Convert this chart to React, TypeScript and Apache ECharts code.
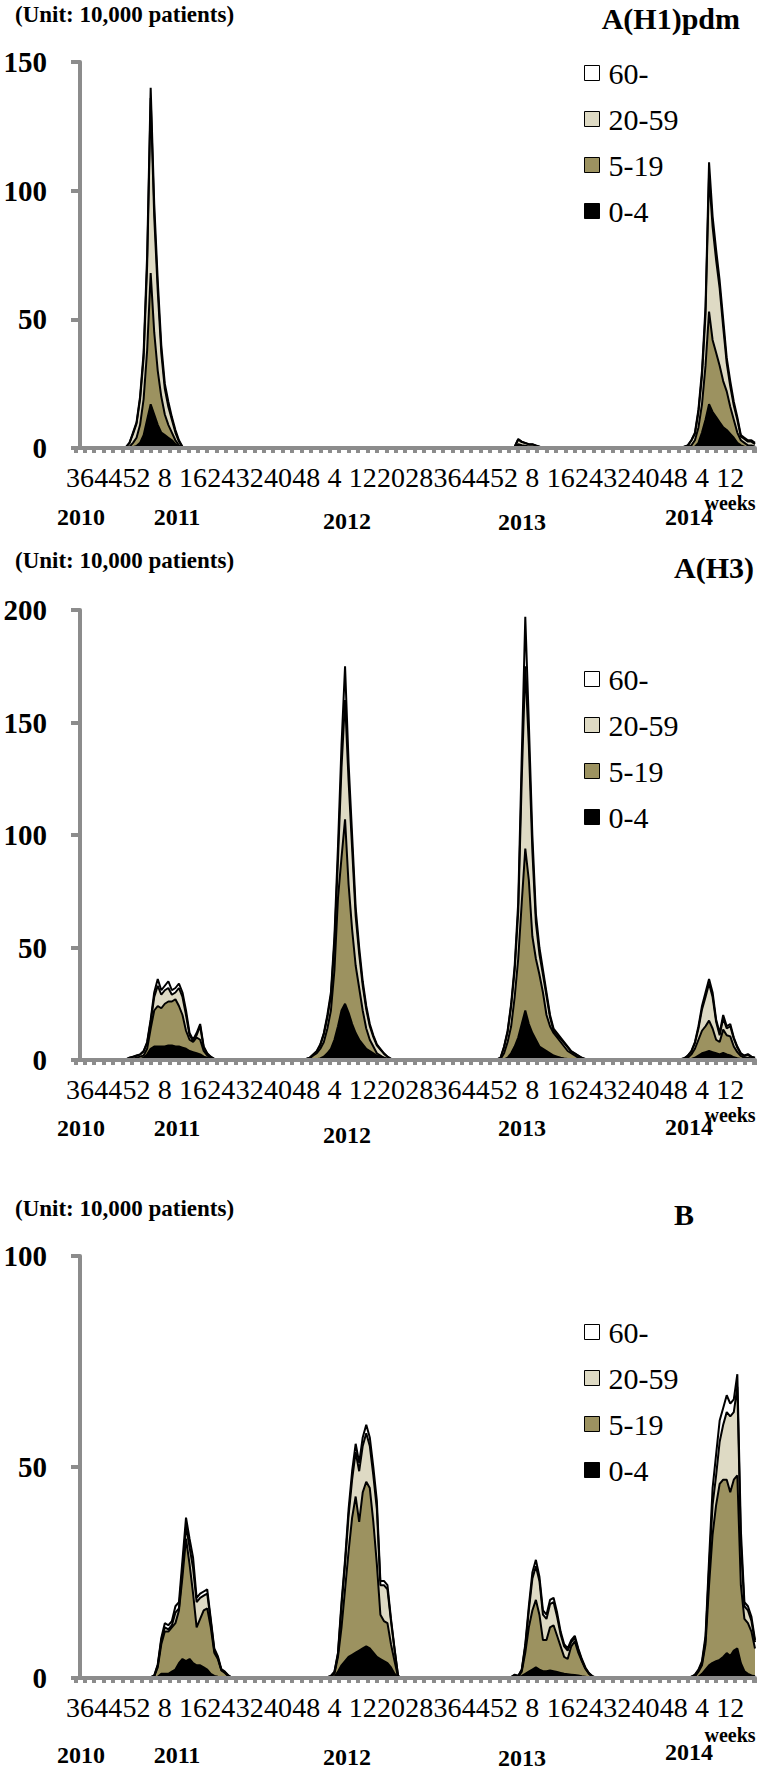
import React, { useEffect, useRef } from "react";
import * as echarts from "echarts";

// ---------- categories: weekly, 2010 week 36 .. 2014 week 19 ----------
const WEEK_RANGES: [number, number, number][] = [
  [2010, 36, 52],
  [2011, 1, 52],
  [2012, 1, 52],
  [2013, 1, 52],
  [2014, 1, 19],
];
const WEEKS: string[] = [];
for (const [, a, b] of WEEK_RANGES) for (let w = a; w <= b; w++) WEEKS.push(String(w));

const AGE_GROUPS = ["0-4", "5-19", "20-59", "60-"];
const LEGEND_ORDER = ["60-", "20-59", "5-19", "0-4"];
const AGE_COLORS = ["#000000", "#9c9260", "#dedac4", "#ffffff"];
const YEAR_LABELS = ["2010", "2011", "2012", "2013", "2014"];

// ---------- A(H1)pdm (unit: 10,000 patients), seasons start at category index ----------
const H1_STARTS = [13, 123, 171];
const H1_0_4 = [
  [0, 0, 0.3, 0.8, 2, 5, 11, 17, 13, 9, 6, 5, 4, 3, 1.5, 0.5, 0.1],
  [0.1, 0.8, 0.6, 0.5, 0.3, 0.3, 0.2, 0.1],
  [0, 0.1, 0.2, 0.5, 2, 6, 11, 17, 14, 12, 10, 8, 7, 5.5, 4, 2, 1, 0.5, 0.3, 0.2, 0.1],
];
const H1_5_19 = [
  [0, 0.5, 1.7, 3.2, 7, 14, 27, 51, 32, 21, 14, 8, 5, 3, 1.5, 0.5, 0.1],
  [0.1, 0.7, 0.5, 0.4, 0.3, 0.3, 0.2, 0.1],
  [0.2, 0.4, 0.8, 2.5, 6, 11, 21, 36, 28, 25, 22, 18, 15, 10.5, 7, 4, 2, 1.5, 0.7, 0.8, 0.4],
];
const H1_20_59 = [
  [0.3, 1.5, 3.5, 5.5, 10, 16, 33, 68, 45, 31, 17, 10, 7, 5, 3, 1.5, 0.2],
  [0.3, 1.8, 1.2, 1.0, 0.8, 0.8, 0.5, 0.3],
  [0.3, 0.5, 2, 2.5, 6, 11, 20, 53, 44, 36, 30, 21, 11, 8, 5.5, 5, 1.5, 1.5, 1.5, 1.5, 1],
];
const H1_60 = [
  [0, 0, 0.5, 0.5, 1, 2, 4, 4, 5, 4, 3, 2, 2, 1, 1, 0.5, 0.1],
  [0, 0.2, 0.2, 0.1, 0.1, 0.1, 0.1, 0],
  [0, 0, 0, 0.5, 1, 2, 3, 5, 4, 4, 3, 3, 2, 2, 1.5, 1, 0.5, 0.5, 0.5, 0.5, 0.5],
];

// ---------- A(H3) ----------
const H3_STARTS = [13, 64, 118, 170];
const H3_0_4 = [
  [0, 0, 0, 0.1, 0.3, 1, 2.5, 5, 6, 6, 6, 6, 6.5, 6.5, 6, 6, 5.5, 5, 4, 3.5, 3, 2.5, 1.5, 1, 0.5, 0.2],
  [0, 0, 0.1, 0.3, 0.7, 1.5, 3, 5, 9, 15, 22, 25, 21, 16, 12, 9, 7, 5, 4, 3, 2, 1.5, 1, 0.5, 0.2],
  [0, 0, 0.3, 1, 3, 6, 10, 16, 22, 16, 12, 9, 6, 5, 4, 3, 2, 1.5, 1, 0.7, 0.5, 0.3, 0.2, 0.1, 0, 0],
  [0, 0, 0.2, 0.5, 1, 2, 3, 3.5, 4, 3.5, 3, 2.5, 3.2, 2.5, 2, 1.2, 0.8, 0.5, 0.3, 0.3, 0.2, 0.1],
];
const H3_5_19 = [
  [0, 0.3, 0.6, 0.9, 1.2, 1, 2.5, 9, 16, 18, 17, 19, 19.5, 19.5, 21, 18, 14.5, 8, 5, 4.5, 7, 6.5, 2.5, 1, 0.5, 0.1],
  [0.3, 0.8, 1.9, 2.7, 4.3, 6.5, 11, 17, 31, 57, 68, 82, 57, 42, 30, 23, 15, 9, 5, 3, 1, 0.5, 0, 0, 0],
  [0, 0.5, 2.7, 7, 12, 22, 35, 54, 72, 64, 43, 36, 32, 25, 16, 12, 10, 8.5, 7, 5.3, 3.5, 2.7, 1.8, 0.9, 0.5, 0.2],
  [0, 0.3, 0.8, 2, 4, 7, 10, 11.5, 13.5, 10.5, 6, 5.5, 10.3, 8.5, 8.5, 4.8, 2.7, 1.3, 0.7, 0.7, 0.5, 0.3],
];
const H3_20_59 = [
  [0.3, 0.7, 0.8, 0.9, 0.9, 1.8, 2.5, 3, 6, 9, 6, 6, 6, 3, 3, 8, 8, 7, 2, 0.5, 1, 6, 1.5, 0.7, 0.3, 0.1],
  [0.2, 0.2, 0.4, 0.8, 1.6, 3.5, 5, 6.5, 12, 17, 40, 53, 46, 36, 22, 15, 11, 8.5, 6, 4.3, 3.5, 2.6, 1.8, 0.9, 0.3],
  [0.3, 0.5, 2.8, 4.5, 9, 12, 21, 55, 81, 60, 38, 16, 9, 8, 8.5, 4, 1, 1, 1.3, 1.5, 1.6, 0.7, 0.8, 0.8, 0.4, 0.2],
  [0.3, 0.5, 0.9, 1.3, 2.5, 5, 9.5, 13, 16.5, 14, 8, 3, 5, 3, 4.5, 3.5, 2, 0.9, 0.8, 1.3, 0.6, 0.5],
];
const H3_60 = [
  [0, 0, 0.1, 0.1, 0.1, 0.2, 0.5, 1, 2, 3, 2, 2, 3, 2, 2, 2, 2, 2, 1, 0.5, 1, 1, 0.5, 0.3, 0.2, 0.1],
  [0, 0, 0.1, 0.2, 0.4, 0.5, 1, 1.5, 3, 6, 10, 15, 8, 6, 4, 3, 2, 1.5, 1, 0.7, 0.5, 0.4, 0.2, 0.1, 0],
  [0, 0, 0.2, 0.5, 1, 2, 4, 10, 22, 10, 7, 4, 3, 2, 1.5, 1, 1, 1, 0.7, 0.5, 0.4, 0.3, 0.2, 0.2, 0.1, 0.1],
  [0, 0, 0.1, 0.2, 0.5, 1, 1.5, 2, 2, 2, 1, 1, 1.5, 1, 1, 0.5, 0.5, 0.3, 0.2, 0.3, 0.2, 0.1],
];

// ---------- B ----------
const B_STARTS = [20, 70, 122, 172];
const B_0_4 = [
  [0, 0, 0.3, 1, 1, 1, 1.5, 2, 3.5, 4.5, 4, 4.5, 3.5, 3, 3, 2.5, 2, 1, 0.5, 0.3, 0.2, 0.1, 0, 0],
  [0, 0, 0.3, 1.5, 3, 4, 5, 5.5, 6, 6.5, 7, 7.5, 7, 6, 5, 4.5, 4, 3.5, 2.5, 1, 0.2],
  [0, 0, 0.2, 0.5, 1, 1.5, 2, 2.5, 2, 1.6, 1.6, 1.8, 1.6, 1.4, 1.2, 1, 0.9, 0.8, 0.7, 0.6, 0.4, 0.3, 0.1, 0, 0],
  [0, 0, 0, 0.3, 1, 2, 3, 3.6, 4, 4.3, 5, 5.9, 5.2, 6.5, 7, 3.5, 1.6, 1, 0.6, 0.4],
];
const B_5_19 = [
  [0.1, 0.4, 2.2, 7, 10, 10, 10.5, 11, 12.5, 19.5, 29, 22.5, 16.5, 9, 11, 13.5, 14.5, 11, 5.5, 4.2, 1.6, 1.1, 0.4, 0.1],
  [0.1, 0.3, 0.7, 3.5, 9, 17, 25, 32.5, 37, 30.5, 37, 39, 38, 31, 22, 10.5, 9.5, 9.5, 5.5, 3, 0.1],
  [0, 0.3, 0.1, 1, 5, 10.5, 14, 16, 13, 7.4, 7.4, 10.2, 10.9, 8.6, 6.3, 4, 3.6, 6.7, 8, 5.4, 3.6, 1.9, 0.9, 0.3, 0.1],
  [0, 0.1, 0.3, 1.2, 2, 6, 19, 30.4, 37, 41.7, 42, 41.1, 38.8, 40.5, 41, 18.5, 12.4, 12, 10.4, 6.6],
];
const B_20_59 = [
  [0.1, 0.1, 0.5, 1, 1, 0.5, 0.5, 2.5, 0.5, 2, 3, 4, 6, 6, 5, 3.5, 3.5, 1.5, 0.5, 0.3, 0.1, 0.2, 0.1, 0],
  [0.1, 0.2, 0.4, 0.7, 5, 6, 8.5, 9, 10.5, 12, 11, 11.5, 10, 11, 13, 7, 8.5, 8, 5.5, 2.8, 0.2],
  [0.2, 0.4, 0.2, 0.4, 1.5, 4, 7.5, 8, 8, 6, 5, 5.5, 5.5, 4.5, 2.8, 2.5, 2, 1, 0.8, 0.6, 0.2, 0.1, 0.1, 0.1, 0],
  [0.1, 0.2, 0.4, 0.3, 0.5, 1, 4, 7, 7, 10, 13, 16, 18, 16, 21, 10, 3, 3, 2.5, 1.5],
];
const B_60 = [
  [0, 0.1, 0.2, 0.5, 1, 1, 1, 1.5, 1.5, 2, 2, 2, 2.5, 1, 1, 1, 1, 0.5, 0.5, 0.4, 0.2, 0.1, 0.1, 0],
  [0, 0, 0.1, 0.3, 1, 1, 1.5, 2, 2, 2, 2, 2, 2, 2, 2, 1, 1, 1, 0.5, 0.2, 0],
  [0, 0.1, 0, 0.1, 0.5, 1, 1.5, 1.5, 1, 1, 1, 1, 1, 1, 0.7, 0.5, 0.5, 0.5, 0.5, 0.4, 0.3, 0.2, 0.1, 0, 0],
  [0, 0, 0.1, 0.2, 0.5, 1, 2, 4, 5, 5, 4, 4, 3, 3, 3, 3, 1, 1, 1, 0.5],
];

// ---------- layout (page pixels) ----------
const SERIF = "Liberation Serif";
const GRAY = "#8c8c8c";
const PLOT_LEFT = 80;
const PLOT_WIDTH = 675;

const PANELS = [
  {
    title: "A(H1)pdm", max: 150, top: 62, height: 386,
    starts: H1_STARTS, layers: [H1_0_4, H1_5_19, H1_20_59, H1_60],
    unitY: 14, titleX: 740, titleY: 18, titleAlign: "right",
    legendTop: 58, weeksY: 503, yearsY: [517, 517, 521, 522, 517],
  },
  {
    title: "A(H3)", max: 200, top: 610, height: 450,
    starts: H3_STARTS, layers: [H3_0_4, H3_5_19, H3_20_59, H3_60],
    unitY: 560, titleX: 754, titleY: 567, titleAlign: "right",
    legendTop: 664, weeksY: 1115, yearsY: [1128, 1128, 1135, 1128, 1127],
  },
  {
    title: "B", max: 100, top: 1256, height: 422,
    starts: B_STARTS, layers: [B_0_4, B_5_19, B_20_59, B_60],
    unitY: 1208, titleX: 684, titleY: 1214, titleAlign: "center",
    legendTop: 1317, weeksY: 1735, yearsY: [1755, 1755, 1757, 1758, 1752],
  },
];
const YEAR_X = [81, 177, 347, 522, 689];

function expand(starts: number[], segments: number[][]): number[] {
  const out = new Array(WEEKS.length).fill(0);
  segments.forEach((seg, i) => seg.forEach((v, k) => { out[starts[i] + k] = v; }));
  return out;
}

function buildOption() {
  const unit = PLOT_WIDTH / (WEEKS.length - 1);
  const shift = 4 / 3; // comb ticks phase (weeks)
  const grid: any[] = [];
  const xAxis: any[] = [];
  const yAxis: any[] = [];
  const series: any[] = [];
  const legend: any[] = [];
  const graphic: any[] = [];
  const legendText = { fontFamily: SERIF, fontSize: 30, fontWeight: "normal", color: "#000" };

  PANELS.forEach((p, pi) => {
    grid.push({ left: PLOT_LEFT, width: PLOT_WIDTH, top: p.top, height: p.height, containLabel: false });
    grid.push({ left: PLOT_LEFT - shift * unit, width: PLOT_WIDTH + shift * unit, top: p.top, height: p.height, containLabel: false });
    const g = pi * 2;
    xAxis.push({
      type: "category", gridIndex: g, data: WEEKS, boundaryGap: false, z: 5,
      axisLine: { show: true, lineStyle: { color: GRAY, width: 4 } },
      axisTick: { show: false },
      axisLabel: { interval: 7, fontFamily: SERIF, fontSize: 28, color: "#000", margin: 15 },
      splitLine: { show: false },
    });
    xAxis.push({
      type: "value", gridIndex: g + 1, position: "bottom", min: 0, max: WEEKS.length - 1 + shift,
      interval: 8 / 3, z: 5,
      axisLine: { show: false },
      axisTick: { show: true, length: 5, lineStyle: { color: GRAY, width: 4 } },
      axisLabel: { show: false },
      splitLine: { show: false },
    });
    yAxis.push({
      type: "value", gridIndex: g, min: 0, max: p.max, interval: 50, z: 5,
      axisLine: { show: true, lineStyle: { color: GRAY, width: 4 } },
      axisTick: { show: true, length: 9, lineStyle: { color: GRAY, width: 4 } },
      axisLabel: { fontFamily: SERIF, fontWeight: "bold", fontSize: 29, color: "#000", margin: 33 },
      splitLine: { show: false },
    });
    yAxis.push({ type: "value", gridIndex: g + 1, show: false, min: 0, max: p.max });

    AGE_GROUPS.forEach((name, li) => {
      series.push({
        type: "line", name, xAxisIndex: g, yAxisIndex: g, stack: "panel" + pi,
        data: expand(p.starts, p.layers[li]),
        symbol: "none", showSymbol: false, z: 2,
        lineStyle: { color: "#000", width: 2 },
        itemStyle: { color: AGE_COLORS[li], borderColor: "#000", borderWidth: 1 },
        areaStyle: { color: AGE_COLORS[li], opacity: 1 },
        emphasis: { disabled: true },
      });
    });

    legend.push({
      orient: "vertical", left: 584, top: p.legendTop, padding: 0,
      itemWidth: 15, itemHeight: 15, itemGap: 16, icon: "rect", selectedMode: false,
      data: LEGEND_ORDER.map((name) => ({ name, textStyle: legendText })),
      itemStyle: { borderColor: "#000", borderWidth: 1 },
      formatter: (name: string) => `{t|${name}}`,
      textStyle: { ...legendText, padding: [0, 0, 0, 4], rich: { t: legendText } },
    });

    graphic.push({
      type: "text", left: 15, top: p.unitY - 11,
      style: { text: "(Unit: 10,000 patients)", font: `bold 23px ${SERIF}`, fill: "#000" },
    });
    graphic.push({
      type: "text", x: p.titleX, y: p.titleY,
      style: { text: p.title, font: `bold 30px ${SERIF}`, fill: "#000", align: p.titleAlign, verticalAlign: "middle" },
    });
    graphic.push({
      type: "text", x: 730, y: p.weeksY,
      style: { text: "weeks", font: `bold 20px ${SERIF}`, fill: "#000", align: "center", verticalAlign: "middle" },
    });
    YEAR_LABELS.forEach((yr, yi) => {
      graphic.push({
        type: "text", x: YEAR_X[yi], y: p.yearsY[yi],
        style: { text: yr, font: `bold 24px ${SERIF}`, fill: "#000", align: "center", verticalAlign: "middle" },
      });
    });
  });

  return {
    animation: false,
    backgroundColor: "#fff",
    textStyle: { fontFamily: SERIF },
    grid, xAxis, yAxis, series, legend, graphic,
  };
}

export default function App() {
  const ref = useRef<HTMLDivElement>(null);
  useEffect(() => {
    if (!ref.current) return;
    const chart = echarts.init(ref.current, undefined, { renderer: "svg" });
    chart.setOption(buildOption() as any);
    return () => chart.dispose();
  }, []);
  return (
    <div
      ref={ref}
      style={{ position: "absolute", left: 0, top: 0, width: 764, height: 1772, background: "#fff" }}
    />
  );
}
